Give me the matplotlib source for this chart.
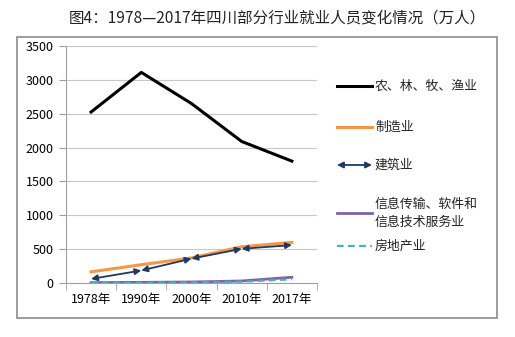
import matplotlib
matplotlib.use("Agg")
import matplotlib.pyplot as plt
from matplotlib.lines import Line2D
from matplotlib.patches import Rectangle, FancyArrowPatch

plt.rcParams['font.family'] = ['Noto Sans CJK SC', 'DejaVu Sans']

years = ['1978年', '1990年', '2000年', '2010年', '2017年']
agri = [2525, 3110, 2650, 2090, 1800]
manuf = [165, 270, 370, 535, 600]
constr = [60, 185, 360, 505, 560]
info = [5, 10, 15, 30, 85]
estate = [2, 4, 8, 20, 55]

names = ['农、林、牧、渔业', '制造业', '建筑业', '信息传输、软件和\n信息技术服务业', '房地产业']
colors = ['black', '#F79646', '#1F3864', '#8064A2', '#4BACC6']

fig = plt.figure(figsize=(5.15, 3.37), dpi=100)
fig.patch.set_facecolor('white')

# outer chart frame
fig.patches.append(Rectangle((17 / 515, 1 - 318 / 337), 480 / 515, 281 / 337,
                             transform=fig.transFigure, fill=False,
                             edgecolor='#8c8c8c', linewidth=1.2))

fig.text(277 / 515, 1 - 18 / 337, '图4：1978—2017年四川部分行业就业人员变化情况（万人）',
         ha='center', va='center', fontsize=11.2, color='#222222')

ax = fig.add_axes([66 / 515, 1 - 283 / 337, 251 / 515, 237 / 337])
x = list(range(len(years)))

ax.plot(x, agri, color=colors[0], lw=2.2, zorder=5)
ax.plot(x, manuf, color=colors[1], lw=2.2, zorder=3)
for i in range(len(x) - 1):
    ax.add_patch(FancyArrowPatch((x[i], constr[i]), (x[i + 1], constr[i + 1]),
                                 arrowstyle='<|-|>', mutation_scale=9,
                                 color=colors[2], lw=1.3, zorder=4,
                                 shrinkA=0, shrinkB=0))
ax.plot(x, info, color=colors[3], lw=2.0, zorder=3)
ax.plot(x, estate, color=colors[4], lw=1.6, ls=(0, (3, 2)), zorder=4)

ax.set_xlim(-0.5, 4.5)
ax.set_ylim(0, 3500)
ax.set_yticks(range(0, 3501, 500))
ax.set_xticks(x)
ax.set_xticklabels(years)
ax.set_xticks([i - 0.5 for i in range(6)], minor=True)
ax.tick_params(axis='x', which='major', length=0, pad=7, labelsize=9)
ax.tick_params(axis='x', which='minor', length=5, color='#a0a0a0', direction='out')
ax.tick_params(axis='y', length=5, color='#a0a0a0', labelsize=9, pad=4)
ax.grid(axis='y', color='#c8c8c8', lw=0.8)
ax.set_axisbelow(True)
for s in ['top', 'right']:
    ax.spines[s].set_visible(False)
ax.spines['left'].set_color('#a0a0a0')
ax.spines['bottom'].set_color('#a0a0a0')

# legend
leg_y = [86, 127, 165, 213, 246]
for name, c, yy, k in zip(names, colors, leg_y, range(5)):
    fy = 1 - yy / 337
    if k == 2:
        fig.patches.append(FancyArrowPatch((337 / 515, fy), (372 / 515, fy),
                                           transform=fig.transFigure,
                                           arrowstyle='<|-|>', mutation_scale=9,
                                           color=c, lw=1.3, shrinkA=0, shrinkB=0))
    else:
        fig.lines.append(Line2D([337 / 515, 372 / 515], [fy, fy],
                                transform=fig.transFigure, color=c,
                                lw=2.2 if k < 2 else (2.0 if k == 3 else 1.6),
                                ls='-' if k < 4 else (0, (3, 2))))
    fig.text(375 / 515, fy, name, ha='left', va='center', fontsize=9.3,
             color='#222222', linespacing=1.5)

fig.savefig('out.png', dpi=100)
